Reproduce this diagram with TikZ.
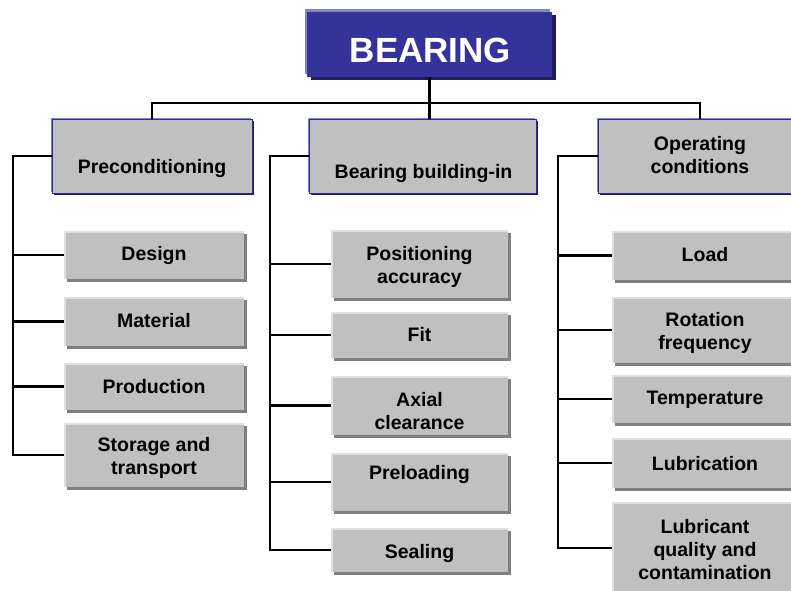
\documentclass[tikz,border=0pt]{standalone}
\usepackage{fontspec}
\setmainfont{Liberation Sans}
\usetikzlibrary{shadows}
\definecolor{boxgray}{HTML}{C0C0C0}
\definecolor{boxshade}{HTML}{808080}
\definecolor{boxlight}{HTML}{E0E0E0}
\definecolor{rootblue}{HTML}{333399}
\definecolor{rootlight}{HTML}{8484C8}
\definecolor{rootshade}{HTML}{1C1C5C}
\definecolor{catline}{HTML}{2E2E8A}
\begin{document}
\begin{tikzpicture}[x=1pt,y=-1pt,
  every node/.style={inner sep=0pt, outer sep=0pt},
  lbl/.style={font=\fontsize{19.5}{23}\selectfont\bfseries, align=center, text=black, yshift=-1.5pt},
  rootlbl/.style={font=\fontsize{35}{40}\selectfont\bfseries, text=white},
  wire/.style={draw=black, line width=2.4pt},
  rootbox/.style={rectangle, fill=rootblue, minimum width=245pt, minimum height=65pt,
    general shadow={shadow xshift=-2pt, shadow yshift=3pt, fill=rootlight, opacity=1},
    general shadow={shadow xshift=4pt, shadow yshift=-3pt, fill=rootshade, opacity=1}},
  catbox/.style={rectangle, fill=boxgray, draw=catline, line width=1pt,
    minimum width=#1, minimum height=74pt,
    general shadow={shadow xshift=-1.5pt, shadow yshift=1.5pt, fill=rootlight, opacity=1},
    general shadow={shadow xshift=2pt, shadow yshift=-2pt, fill=rootshade, opacity=1}},
  kid/.style={rectangle, fill=boxgray, minimum width=#1,
    general shadow={shadow xshift=3pt, shadow yshift=-3pt, fill=boxshade, opacity=1},
    path picture={
      \fill[boxlight] (path picture bounding box.north west) rectangle
        ([yshift=-1.8pt]path picture bounding box.north east);
      \fill[boxlight] (path picture bounding box.north west) rectangle
        ([xshift=1.8pt]path picture bounding box.south west);}},
  col1/.style={kid=180pt},
  col2/.style={kid=177pt},
  col3/.style={kid=186pt}]

\useasboundingbox (0,0) rectangle (791,590);
\clip (0,0) rectangle (791,590);

% root
\node[rootbox, label={[rootlbl, xshift=1pt, yshift=-5.5pt]center:BEARING}] (root) at (429.5,44.5) {};

% categories
\node[catbox=200pt, label={[lbl, yshift=-11pt]center:Preconditioning}] (P1) at (152,156) {};
\node[catbox=227pt, label={[lbl, xshift=1pt, yshift=-16pt]center:Bearing building-in}] (P2) at (422.5,156) {};
\node[catbox=204pt, label={[lbl, yshift=2pt]center:{Operating\\conditions}}] (P3) at (700,156) {};

% preconditioning items
\node[col1, minimum height=48pt, label={[lbl, yshift=1pt]center:Design}] (d1) at (154,255) {};
\node[col1, minimum height=49pt, label={[lbl, yshift=2.5pt]center:Material}] (d2) at (154,321.5) {};
\node[col1, minimum height=47pt, label={[lbl, yshift=1.5pt]center:Production}] (d3) at (154,386.5) {};
\node[col1, minimum height=64pt, label={[lbl, yshift=-1.5pt]center:{Storage and\\transport}}] (d4) at (154,455) {};

% building-in items
\node[col2, minimum height=68pt, label={[lbl, yshift=-1pt]center:{Positioning\\accuracy}}] (e1) at (419.5,264) {};
\node[col2, minimum height=46pt, label={[lbl, yshift=2pt]center:Fit}] (e2) at (419.5,335) {};
\node[col2, minimum height=59pt, label={[lbl, yshift=-4.5pt]center:{Axial\\clearance}}] (e3) at (419.5,405.5) {};
\node[col2, minimum height=58pt, label={[lbl, yshift=9pt]center:Preloading}] (e4) at (419.5,482) {};
\node[col2, minimum height=44pt, label={[lbl, yshift=-2pt]center:Sealing}] (e5) at (419.5,550) {};

% operating condition items
\node[col3, minimum height=49pt, label={[lbl, yshift=2.5pt]center:Load}] (f1) at (705,255.5) {};
\node[col3, minimum height=66pt, label={[lbl, yshift=-1.5pt]center:{Rotation\\frequency}}] (f2) at (705,330) {};
\node[col3, minimum height=48pt, label={[lbl, yshift=1pt]center:Temperature}] (f3) at (705,399) {};
\node[col3, minimum height=50pt, label={[lbl, yshift=1pt]center:Lubrication}] (f4) at (705,463) {};
\node[col3, minimum height=92pt, label={[lbl]center:{Lubricant\\quality and\\contamination}}] (f5) at (705,548) {};

% tree lines
\coordinate (bus) at (430,103);
\coordinate (b1) at (13,156);
\coordinate (b2) at (270,156);
\coordinate (b3) at (558,156);

\draw[wire] (root.south) -- (root.south |- P2.north);
\draw[wire] (P1.north) |- (bus) -| (P3.north);

\draw[wire] (P1.west) -- (b1) |- (d4.west);
\foreach \k in {d1,d2,d3} \draw[wire] (\k.west) -- (\k.west -| b1);

\draw[wire] (P2.west) -- (b2) |- (e5.west);
\foreach \k in {e1,e2,e3,e4} \draw[wire] (\k.west) -- (\k.west -| b2);

\draw[wire] (P3.west) -- (b3) |- (f5.west);
\foreach \k in {f1,f2,f3,f4} \draw[wire] (\k.west) -- (\k.west -| b3);
\end{tikzpicture}
\end{document}
